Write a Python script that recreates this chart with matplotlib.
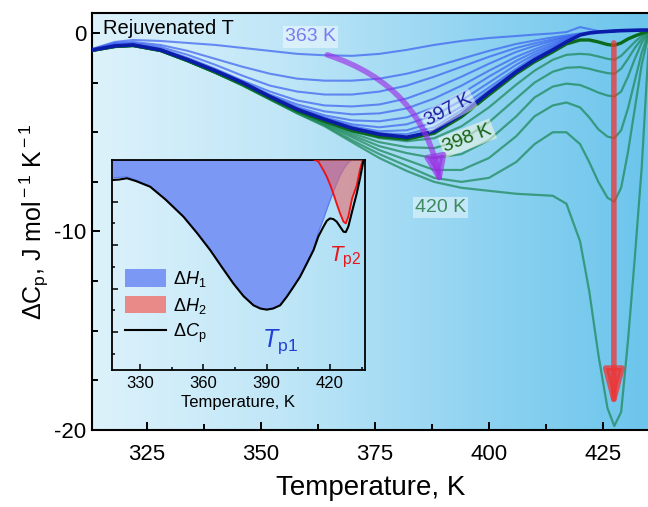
import numpy as np
import matplotlib
matplotlib.use('Agg')
import matplotlib.pyplot as plt
from matplotlib.colors import LinearSegmentedColormap
from matplotlib.patches import Patch, ArrowStyle
from matplotlib.lines import Line2D
from matplotlib.ticker import MultipleLocator, FixedLocator

plt.rcParams['font.family'] = ['Liberation Sans', 'DejaVu Sans']
plt.rcParams['mathtext.fontset'] = 'custom'
plt.rcParams['mathtext.rm'] = 'Liberation Sans'
plt.rcParams['mathtext.it'] = 'Liberation Sans:italic'
plt.rcParams['axes.unicode_minus'] = False

# ---------------- main panel data ----------------
T = [313, 318, 322, 328, 334, 340, 346, 352, 358, 364, 370, 376, 382, 388, 394,
     400, 406, 410, 414, 417, 420, 422, 424, 426, 427.5, 429, 430.5, 432, 433.5, 435]

b363 = [-0.80,-0.45,-0.35,-0.40,-0.50,-0.60,-0.75,-0.90,-1.05,-1.12,-1.15,-1.05,-0.85,-0.60,-0.40,-0.25,-0.15,-0.08,-0.02,0.05,0.30,0.20,0.10,0.10,0.12,0.13,0.14,0.14,0.15,0.15]
b367 = [-0.82,-0.50,-0.45,-0.60,-0.90,-1.30,-1.70,-2.05,-2.30,-2.40,-2.40,-2.30,-2.05,-1.70,-1.30,-0.90,-0.55,-0.38,-0.22,-0.12,-0.02,0.04,0.08,0.10,0.11,0.12,0.13,0.14,0.15,0.15]
b371 = [-0.84,-0.55,-0.50,-0.70,-1.10,-1.60,-2.15,-2.65,-2.95,-3.10,-3.10,-2.95,-2.65,-2.20,-1.70,-1.20,-0.75,-0.52,-0.32,-0.18,-0.05,0.02,0.06,0.09,0.10,0.12,0.13,0.14,0.15,0.15]
b375 = [-0.85,-0.58,-0.55,-0.78,-1.25,-1.80,-2.40,-2.95,-3.40,-3.65,-3.70,-3.60,-3.30,-2.80,-2.20,-1.55,-0.95,-0.65,-0.40,-0.22,-0.07,0.01,0.05,0.08,0.10,0.12,0.13,0.14,0.15,0.15]
b379 = [-0.85,-0.60,-0.57,-0.82,-1.30,-1.85,-2.45,-3.10,-3.60,-3.95,-4.10,-4.05,-3.80,-3.30,-2.65,-1.90,-1.20,-0.82,-0.50,-0.28,-0.08,0.00,0.05,0.08,0.10,0.12,0.13,0.14,0.15,0.15]
b383 = [-0.86,-0.62,-0.58,-0.83,-1.32,-1.88,-2.47,-3.15,-3.72,-4.15,-4.40,-4.45,-4.25,-3.75,-3.05,-2.20,-1.40,-0.95,-0.60,-0.32,-0.09,0.00,0.05,0.08,0.10,0.12,0.13,0.14,0.15,0.15]
b387 = [-0.86,-0.63,-0.59,-0.84,-1.33,-1.89,-2.48,-3.17,-3.79,-4.25,-4.60,-4.75,-4.60,-4.15,-3.40,-2.50,-1.60,-1.08,-0.68,-0.36,-0.09,0.00,0.05,0.08,0.10,0.12,0.13,0.14,0.15,0.15]
b391 = [-0.86,-0.64,-0.60,-0.85,-1.34,-1.90,-2.49,-3.19,-3.82,-4.30,-4.70,-4.95,-4.90,-4.50,-3.70,-2.75,-1.80,-1.20,-0.76,-0.40,-0.10,0.00,0.05,0.08,0.10,0.12,0.13,0.14,0.15,0.15]
b394 = [-0.86,-0.64,-0.60,-0.85,-1.35,-1.90,-2.50,-3.20,-3.84,-4.33,-4.75,-5.05,-5.10,-4.75,-3.90,-2.90,-1.90,-1.28,-0.80,-0.42,-0.10,0.00,0.05,0.08,0.10,0.12,0.13,0.14,0.15,0.15]
b397 = [-0.86,-0.65,-0.60,-0.85,-1.35,-1.90,-2.50,-3.20,-3.85,-4.35,-4.80,-5.10,-5.25,-4.95,-4.10,-3.00,-1.95,-1.35,-0.85,-0.45,-0.10,0.00,0.05,0.08,0.10,0.12,0.13,0.14,0.15,0.15]

g398 = [-0.88,-0.68,-0.63,-0.88,-1.40,-1.97,-2.58,-3.28,-3.93,-4.45,-4.92,-5.22,-5.35,-5.05,-4.22,-3.12,-2.05,-1.45,-0.95,-0.55,-0.35,-0.35,-0.45,-0.58,-0.62,-0.50,-0.30,-0.15,-0.02,0.10]
g402 = [-0.88,-0.68,-0.63,-0.88,-1.40,-1.98,-2.60,-3.30,-3.96,-4.45,-4.95,-5.30,-5.45,-5.30,-4.70,-3.75,-2.60,-1.90,-1.35,-1.10,-1.05,-1.08,-1.18,-1.30,-1.35,-1.15,-0.80,-0.45,-0.15,0.10]
g406 = [-0.89,-0.69,-0.64,-0.89,-1.41,-1.99,-2.61,-3.31,-3.98,-4.50,-5.05,-5.50,-5.75,-5.80,-5.40,-4.50,-3.30,-2.50,-1.95,-1.75,-1.72,-1.80,-1.92,-2.02,-2.05,-1.80,-1.30,-0.75,-0.30,0.10]
g409 = [-0.89,-0.69,-0.64,-0.89,-1.41,-1.99,-2.62,-3.32,-4.00,-4.55,-5.15,-5.70,-6.05,-6.30,-6.10,-5.40,-4.20,-3.25,-2.70,-2.55,-2.62,-2.80,-3.00,-3.15,-3.20,-2.95,-2.20,-1.30,-0.50,0.05]
g413 = [-0.90,-0.70,-0.65,-0.90,-1.42,-2.00,-2.62,-3.33,-4.02,-4.60,-5.25,-5.90,-6.40,-6.90,-6.90,-6.30,-5.20,-4.20,-3.65,-3.50,-3.75,-4.25,-4.85,-5.22,-5.30,-4.90,-3.80,-2.40,-1.00,0.00]
g416 = [-0.90,-0.70,-0.65,-0.90,-1.42,-2.00,-2.63,-3.34,-4.04,-4.65,-5.40,-6.10,-6.70,-7.30,-7.50,-7.30,-6.50,-5.60,-5.00,-5.00,-5.60,-6.50,-7.50,-8.30,-8.50,-7.80,-6.00,-3.80,-1.60,-0.10]
g420 = [-0.90,-0.70,-0.65,-0.90,-1.42,-2.00,-2.65,-3.35,-4.05,-4.70,-5.50,-6.30,-6.95,-7.50,-7.80,-7.95,-8.10,-8.15,-8.20,-8.60,-10.50,-13.00,-16.20,-18.90,-19.80,-19.10,-15.50,-11.30,-6.80,-0.80]

blue_thin = [b363, b367, b371, b375, b379, b383, b387, b391, b394]
green_thin = [g402, g406, g409, g413, g416, g420]

x_major = [325, 350, 375, 400, 425]
y_major = [0, -10, -20]

# ---------------- inset data ----------------
Ti = [316.6, 320, 323.7, 328, 334.7, 342, 350.5, 357, 363.2, 369, 374.2, 379, 383.7, 387, 390,
      393, 396.4, 399.5, 402.5, 405.8, 409, 412.2, 414.5, 416.9, 418.5, 420, 421.6, 423.2,
      424.8, 426.4, 427.5, 428.7, 430.5, 432.7, 434.2, 435.8, 436.6]
cp = [-1.00,-0.98,-0.92,-1.05,-1.31,-1.90,-2.69,-3.45,-4.23,-5.05,-5.77,-6.35,-6.77,-6.92,-6.97,
      -6.92,-6.77,-6.38,-5.95,-5.46,-4.85,-4.23,-3.60,-3.15,-2.88,-2.77,-2.80,-2.92,
      -3.15,-3.38,-3.40,-3.15,-2.45,-1.62,-0.95,-0.15,0.10]
peak1 = [-0.90,-0.88,-0.85,-1.00,-1.28,-1.88,-2.67,-3.43,-4.21,-5.03,-5.75,-6.33,-6.75,-6.90,-6.95,
         -6.90,-6.75,-6.36,-5.93,-5.44,-4.83,-4.21,-3.40,-2.80,-2.35,-1.95,-1.55,-1.15,
         -0.80,-0.50,-0.35,-0.20,-0.06,0.0,0.0,0.0,0.0]
peak2 = [0,0,0,0,0,0,0,0,0,0,0,0,0,0,0,
         0,0,0,0,0,-0.02,-0.05,-0.15,-0.55,-0.85,-1.20,-1.62,-2.10,
         -2.54,-2.92,-3.00,-2.69,-1.85,-1.25,-0.54,0.0,0.0]
xi_major = [330, 360, 390, 420]

# ---------------- figure ----------------
fig = plt.figure(figsize=(6.48, 5.07), dpi=100)
ax = fig.add_axes([0.142, 0.152, 0.8595, 0.822])
xlim = (313.0, 435.1)
ylim = (-20, 1.0)
ax.set_xlim(*xlim)
ax.set_ylim(*ylim)

cmap = LinearSegmentedColormap.from_list(
    'bg', [(0, '#ddf2fb'), (0.35, '#bfe6f7'), (0.7, '#8fd3f1'), (1.0, '#6cc5ec')])
grad = np.linspace(0, 1, 256).reshape(1, -1)
ax.imshow(grad, extent=[xlim[0], xlim[1], ylim[0], ylim[1]], aspect='auto',
          cmap=cmap, zorder=0, interpolation='bicubic')

for g in green_thin:
    ax.plot(T, g, color='#1f8a5c', alpha=0.75, lw=1.6, zorder=2)
for b in blue_thin:
    ax.plot(T, b, color='#3e63f0', alpha=0.72, lw=1.5, zorder=3)
ax.plot(T, g398, color='#0b6a1c', lw=2.4, zorder=4)
ax.plot(T, b397, color='#0a1ca8', lw=2.6, zorder=5)

# annotations
ax.text(315.5, 0.25, 'Rejuvenated T', fontsize=14.5, color='black', ha='left', va='center', zorder=6)
box = dict(facecolor='white', alpha=0.45, edgecolor='none', pad=1.5)
ax.text(360.9, -0.2, '363 K', fontsize=14, color='#7b7bf0', ha='center', va='center', bbox=box, zorder=6)
ax.text(391.2, -3.9, '397 K', fontsize=14, color='#1c1ca0', ha='center', va='center',
        rotation=28, bbox=box, zorder=6)
ax.text(395.3, -5.3, '398 K', fontsize=14, color='#156215', ha='center', va='center',
        rotation=21, bbox=dict(facecolor='#fbfbe6', alpha=0.55, edgecolor='none', pad=1.5), zorder=6)
ax.text(389.4, -8.8, '420 K', fontsize=14, color='#3d8a5f', ha='center', va='center', bbox=box, zorder=6)

ax.annotate('', xy=(389.4, -7.66), xytext=(364.6, -1.1),
            arrowprops=dict(arrowstyle=ArrowStyle('-|>', head_length=1.3, head_width=0.5),
                            mutation_scale=12, lw=4, color='#9b2fe6', alpha=0.65,
                            connectionstyle='arc3,rad=-0.3', shrinkA=0, shrinkB=0), zorder=7)
ax.annotate('', xy=(427.4, -19.0), xytext=(427.4, -0.5),
            arrowprops=dict(arrowstyle=ArrowStyle('-|>', head_length=1.6, head_width=0.42),
                            mutation_scale=14, lw=4.0, color='#f03434', alpha=0.75,
                            shrinkA=0, shrinkB=0), zorder=7)

ax.xaxis.set_major_locator(FixedLocator(x_major))
ax.xaxis.set_minor_locator(MultipleLocator(12.5))
ax.yaxis.set_major_locator(FixedLocator(y_major))
ax.yaxis.set_minor_locator(MultipleLocator(2.5))
ax.tick_params(which='both', direction='in', width=1.4, labelsize=16)
ax.tick_params(which='major', length=6)
ax.tick_params(which='minor', length=4)
ax.tick_params(axis='x', pad=10)
ax.tick_params(axis='y', pad=4)
for s in ['left', 'bottom', 'top']:
    ax.spines[s].set_linewidth(1.5)
ax.spines['right'].set_visible(False)
ax.set_xlabel('Temperature, K', fontsize=20, labelpad=7)
ax.set_ylabel(r'$\Delta$C$_{\rm p}$, J mol$^{\rm -1}$ K$^{\rm -1}$', fontsize=18, labelpad=2)

# ---------------- inset ----------------
axin = fig.add_axes([0.1728, 0.2702, 0.3904, 0.4142])
axin.patch.set_alpha(0)
axin.set_xlim(316.6, 436.6)
axin.set_ylim(-9.75, -0.08)
axin.fill_between(Ti, 0, peak1, color='#7b98f4', lw=0, zorder=1)
axin.plot(Ti, peak1, color='#5a7cf0', lw=0.8, zorder=2)
axin.fill_between(Ti, 0, peak2, color='#e86a6a', alpha=0.6, lw=0, zorder=3)
axin.plot(Ti, peak2, color='#f01010', lw=1.3, zorder=4)
axin.plot(Ti, cp, color='black', lw=1.5, zorder=5)
axin.text(280/648, 1 - 342/507, r'$T_{\rm p1}$', transform=fig.transFigure, fontsize=18,
          color='#1f3fd8', ha='center', va='center')
axin.text(345/648, 1 - 257/507, r'$T_{\rm p2}$', transform=fig.transFigure, fontsize=16,
          color='#e8161b', ha='center', va='center')
handles = [Patch(facecolor='#7b98f4', edgecolor='none'),
           Patch(facecolor='#e98a88', edgecolor='none'),
           Line2D([], [], color='black', lw=1.5)]
axin.legend(handles, [r'$\Delta H_1$', r'$\Delta H_2$', r'$\Delta C_{\rm p}$'],
            loc='upper left', bbox_to_anchor=(0.0, 0.54), frameon=False, fontsize=13,
            handlelength=2.3, handleheight=1.1, labelspacing=0.35, handletextpad=0.4,
            borderaxespad=0.3)
axin.xaxis.set_major_locator(FixedLocator(xi_major))
axin.xaxis.set_minor_locator(MultipleLocator(15))
axin.yaxis.set_major_locator(MultipleLocator(2))
axin.yaxis.set_minor_locator(MultipleLocator(1))
axin.tick_params(which='both', direction='in', width=1.1, labelsize=12, pad=4)
axin.tick_params(which='major', length=4)
axin.tick_params(which='minor', length=2.5)
axin.tick_params(axis='y', labelleft=False)
for s in axin.spines.values():
    s.set_linewidth(1.3)
axin.set_xlabel('Temperature, K', fontsize=12, labelpad=3)

fig.savefig('out.png', dpi=100)
